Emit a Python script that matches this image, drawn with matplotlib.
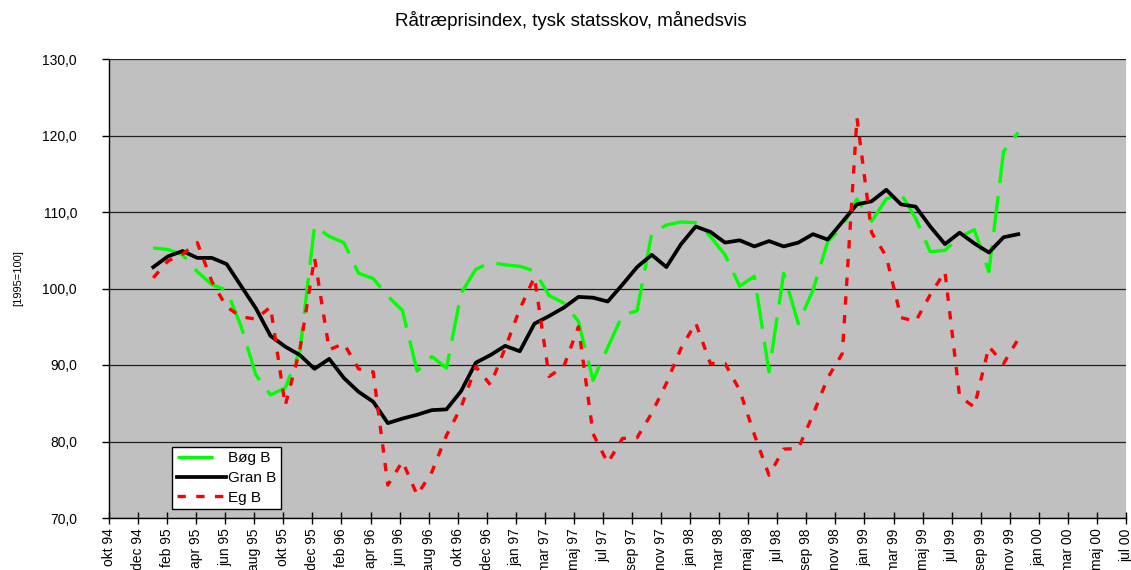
import matplotlib.pyplot as plt
import numpy as np
from matplotlib.ticker import FuncFormatter

plt.rcParams['font.family'] = ['Liberation Sans', 'DejaVu Sans']
plt.rcParams['lines.scale_dashes'] = False

# monthly index values, jan 95 .. dec 99 (1995=100)
months = np.arange(60)

bog_b = [105.3, 105.1, 104.4, 102.2, 100.5, 99.8, 95.0, 88.7, 86.1, 87.0,
         91.8, 108.2, 106.8, 106.0, 102.0, 101.3, 99.0, 97.1, 89.2, 91.1,
         89.6, 99.4, 102.5, 103.4, 103.1, 102.9, 102.3, 99.1, 98.1, 95.7,
         88.0, 92.3, 96.5, 97.1, 107.2, 108.3, 108.7, 108.6, 106.8, 104.4,
         100.3, 101.6, 89.1, 102.0, 95.4, 99.8, 106.1, 108.1, 111.7, 108.8,
         111.7, 112.4, 109.2, 104.8, 105.0, 106.7, 107.7, 102.2, 117.9, 120.4]

gran_b = [102.8, 104.2, 104.9, 104.0, 104.0, 103.2, 100.3, 97.4, 93.8, 92.4,
          91.3, 89.5, 90.8, 88.3, 86.5, 85.2, 82.4, 83.0, 83.5, 84.1,
          84.2, 86.6, 90.3, 91.3, 92.5, 91.8, 95.4, 96.4, 97.5, 98.9,
          98.8, 98.3, 100.5, 102.8, 104.4, 102.8, 105.8, 108.1, 107.4, 106.0,
          106.3, 105.5, 106.2, 105.5, 106.0, 107.1, 106.4, 108.7, 111.0, 111.4,
          112.9, 111.0, 110.7, 108.1, 105.8, 107.3, 105.9, 104.7, 106.7, 107.1]

eg_b = [101.4, 103.6, 104.5, 106.0, 100.9, 97.6, 96.3, 96.0, 97.6, 84.7,
        92.0, 104.0, 92.0, 92.8, 89.5, 89.1, 74.3, 77.4, 73.0, 76.0,
        80.8, 84.5, 89.8, 87.4, 92.2, 97.3, 101.5, 88.5, 89.8, 95.0,
        81.0, 77.2, 80.4, 80.5, 83.7, 87.6, 92.2, 95.5, 90.2, 90.2,
        86.7, 80.9, 75.6, 79.0, 79.1, 83.5, 88.3, 91.5, 122.3, 107.3,
        104.2, 96.2, 95.7, 99.2, 102.2, 85.9, 84.5, 92.4, 90.2, 93.4]

tick_labels = ['okt 94', 'dec 94', 'feb 95', 'apr 95', 'jun 95', 'aug 95',
               'okt 95', 'dec 95', 'feb 96', 'apr 96', 'jun 96', 'aug 96',
               'okt 96', 'dec 96', 'jan 97', 'mar 97', 'maj 97', 'jul 97',
               'sep 97', 'nov 97', 'jan 98', 'mar 98', 'maj 98', 'jul 98',
               'sep 98', 'nov 98', 'jan 99', 'mar 99', 'maj 99', 'jul 99',
               'sep 99', 'nov 99', 'jan 00', 'mar 00', 'maj 00', 'jul 00']

W, H = 1131, 570
fig = plt.figure(figsize=(W / 100, H / 100), dpi=100)
fig.patch.set_facecolor('white')

# plot area in pixels: x 109..1126, y 59..518
ax = fig.add_axes([109 / W, 1 - 518 / H, (1126 - 109) / W, (518 - 59) / H])
ax.set_facecolor('#C0C0C0')

ax.plot(months, bog_b, color='#00FF00', lw=2.4, ls=(0, (26, 9.5)), label='Bøg B', zorder=3)
ax.plot(months, gran_b, color='black', lw=2.7, label='Gran B', zorder=4)
ax.plot(months, eg_b, color='#FF0000', lw=2.4, ls=(0, (6, 7.5)), label='Eg B', zorder=5)

x_left, x_right = -3.02, 66.35
ax.set_xlim(x_left, x_right)
ax.set_ylim(70, 130)
ax.set_yticks(np.arange(70, 131, 10))
ax.yaxis.set_major_formatter(FuncFormatter(lambda v, p: f'{v:.1f}'.replace('.', ',')))
ax.set_xticks(np.linspace(x_left, x_right, len(tick_labels)))
ax.set_xticklabels(tick_labels, rotation=90)

ax.yaxis.grid(True, color='#202020', lw=0.9)
ax.set_axisbelow(True)
for side in ['top', 'right']:
    ax.spines[side].set_visible(False)
for side in ['left', 'bottom']:
    ax.spines[side].set_color('black')
    ax.spines[side].set_linewidth(1.0)

ax.tick_params(axis='x', direction='inout', length=9, width=1, pad=3, labelsize=10)
ax.tick_params(axis='y', direction='out', length=5, width=1, pad=18, labelsize=10)

leg = ax.legend(loc='lower left', bbox_to_anchor=(0.062, 0.019), fontsize=11,
                frameon=True, fancybox=False, framealpha=1, edgecolor='black',
                handlelength=3.2, handletextpad=0.15, labelspacing=0.38,
                borderpad=0.3, borderaxespad=0)
leg.get_frame().set_linewidth(1.0)

fig.text(571 / W, 1 - 20 / H, 'Råtræprisindex, tysk statsskov, månedsvis',
         ha='center', va='center', fontsize=13.5)
fig.text(18 / W, 1 - 278 / H, '[1995=100]', rotation=90, ha='center', va='center', fontsize=8)

fig.savefig('out.png', dpi=100, facecolor='white')
